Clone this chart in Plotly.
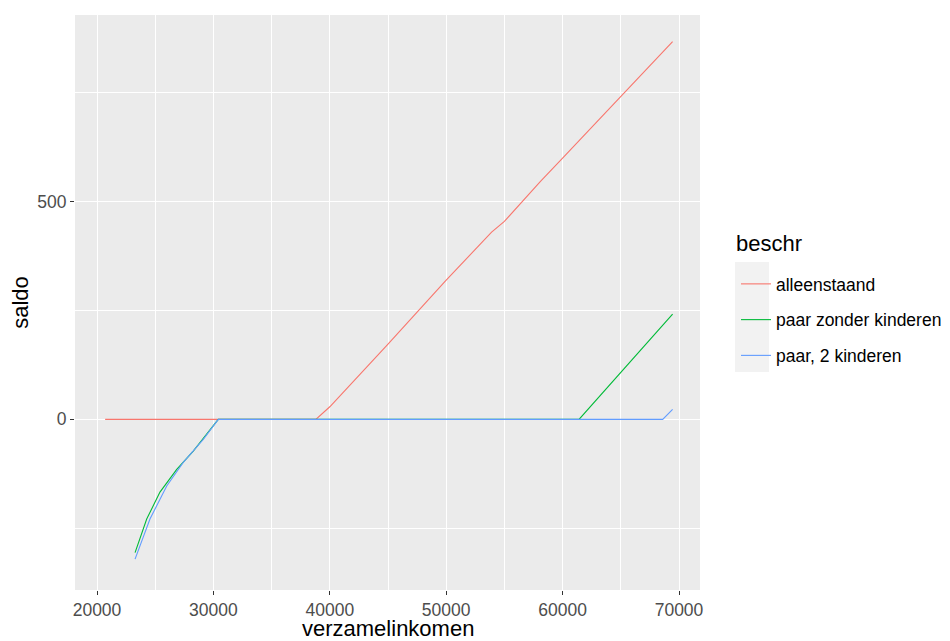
import plotly.graph_objects as go

# ---- data ----
series_names = ["alleenstaand", "paar zonder kinderen", "paar, 2 kinderen"]

alleen_x = [20700, 38800, 40000, 45000, 50000, 53900, 55000, 58100, 60000, 65000, 69450]
alleen_y = [0, 0, 29, 173, 320, 430, 455, 547, 600, 743, 868]

paar_x = [23270, 24270, 25410, 26850, 28270, 29420, 30420, 61410, 69450]
paar_y = [-306, -229, -167, -115, -73, -34, 0, 0, 242]

kind_x = [23270, 24550, 25990, 27410, 29130, 30420, 68600, 69450]
kind_y = [-321, -229, -153, -99, -46, 0, 0, 23]

colors = ["#F8766D", "#00BA38", "#619CFF"]
legend_title = "beschr"
x_title = "verzamelinkomen"
y_title = "saldo"

FONT = "Liberation Sans, Arial, sans-serif"

fig = go.Figure()
for i, (name, xs, ys) in enumerate(zip(series_names,
                                       [alleen_x, paar_x, kind_x],
                                       [alleen_y, paar_y, kind_y])):
    fig.add_trace(go.Scatter(x=xs, y=ys, mode="lines", name=name,
                             legendgroup=name,
                             line=dict(color=colors[i], width=1.1)))

# plot panel in page pixels (page has an 8px body margin)
OFF = 8
W, H = 950, 641 - OFF
L, R, T, B = 75, 700, 15, 590
PW, PH = R - L, B - T


def px_x(p):
    return (p - L) / PW


def px_y(p):
    return (B - p) / PH


# grey key background like ggplot's legend keys
fig.add_shape(type="rect", xref="paper", yref="paper",
              x0=px_x(735), x1=px_x(769),
              y0=px_y(372), y1=px_y(262),
              fillcolor="#F2F2F2", line=dict(width=0), layer="below")

fig.add_annotation(text=legend_title, xref="paper", yref="paper",
                   x=px_x(734), y=px_y(243), xanchor="left", yanchor="middle",
                   showarrow=False, font=dict(size=22, color="#000000", family=FONT))

# x-axis title placed like ggplot's
fig.add_annotation(text=x_title, xref="paper", yref="paper",
                   x=0.5, y=px_y(628.5), xanchor="center", yanchor="middle",
                   showarrow=False, font=dict(size=22, color="#000000", family=FONT))

fig.update_layout(
    width=W, height=H,
    margin=dict(l=L - OFF, r=W - (R - OFF), t=T - OFF, b=H - (B - OFF), autoexpand=False),
    paper_bgcolor="white", plot_bgcolor="#EBEBEB",
    font=dict(family=FONT, color="#000000"),
    showlegend=True,
    legend=dict(
        font=dict(size=17.5, color="#000000", family=FONT),
        x=px_x(736), xanchor="left",
        y=px_y(320), yanchor="middle",
        bgcolor="rgba(0,0,0,0)",
        tracegroupgap=10,
        itemwidth=30,
    ),
    xaxis=dict(
        range=[18110, 71804], tick0=0, dtick=10000, tickformat="d",
        automargin=True,
        showgrid=True, gridcolor="white", gridwidth=1.1,
        minor=dict(dtick=5000, tick0=0, showgrid=True, gridcolor="white", gridwidth=0.55),
        zeroline=False, showline=False,
        ticks="outside", ticklen=4, tickwidth=1.1, tickcolor="#333333",
        tickfont=dict(size=17.5, color="#4D4D4D", family=FONT),
    ),
    yaxis=dict(
        range=[-392, 929], tick0=0, dtick=500, tickformat="d",
        automargin=True,
        showgrid=True, gridcolor="white", gridwidth=1.1,
        minor=dict(dtick=250, tick0=0, showgrid=True, gridcolor="white", gridwidth=0.55),
        zeroline=False, showline=False,
        ticks="outside", ticklen=4, tickwidth=1.1, tickcolor="#333333",
        tickfont=dict(size=17.5, color="#4D4D4D", family=FONT),
        title=dict(text=y_title, font=dict(size=22, color="#000000"), standoff=10),
    ),
)

fig.write_html("out.html")
